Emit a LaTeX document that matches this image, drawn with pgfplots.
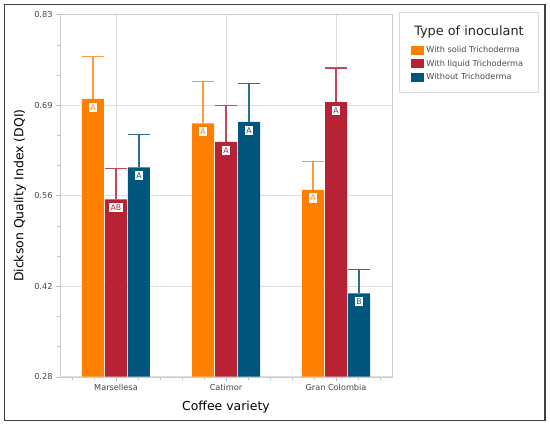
\documentclass[border=0pt]{standalone}
\usepackage{fontspec}
\setmainfont{DejaVu Sans}
\usepackage{pgfplots}
\usepackage{pgfplotstable}
\pgfplotsset{compat=1.18}
\definecolor{cOr}{HTML}{FF8000}
\definecolor{cRd}{HTML}{B82235}
\definecolor{cBl}{HTML}{00567D}
\definecolor{eOr}{HTML}{FF9A3C}
\definecolor{eRd}{HTML}{C84555}
\definecolor{eBl}{HTML}{2F6E8E}
\pgfplotstableread{
x y e lab
0 0.702 0.064 A
1 0.665 0.064 A
2 0.564 0.043 A
}\solid
\pgfplotstableread{
x y e lab
0 0.5495 0.047 AB
1 0.6366 0.056 A
2 0.697 0.052 A
}\liquid
\pgfplotstableread{
x y e lab
0 0.598 0.050 A
1 0.667 0.059 A
2 0.4067 0.036 B
}\without
\begin{document}
\begin{tikzpicture}
\useasboundingbox (0,0) rectangle (550bp,425bp);
\fill[white] (0,0) rectangle (550bp,425bp);
\draw[line width=1.3bp, black!75] (4.7bp,4.7bp) rectangle (545bp,420.3bp);
\begin{axis}[
  at={(60bp,48.3bp)}, anchor=south west,
  scale only axis, width=332bp, height=362bp,
  ymin=0.28, ymax=0.83,
  ytick={0.28,0.4175,0.555,0.6925,0.83},
  yticklabels={0.28,0.42,0.56,0.69,0.83},
  minor y tick num=2,
  xmin=-0.509, xmax=2.509,
  xtick={0,1,2},
  xticklabels={Marsellesa,Catimor,Gran Colombia},
  minor xtick={-0.4,-0.2,0.2,0.4,0.6,0.8,1.2,1.4,1.6,1.8,2.2,2.4},
  xtick pos=lower, ytick pos=left,
  tick align=outside,
  major tick length=4bp, minor tick length=3bp,
  every tick/.style={black!25},
  axis line style={black!20},
  grid=major,
  major grid style={black!13, line width=0.9bp},
  ticklabel style={font=\fontsize{8.2}{9}\selectfont, text=black!72},
  xlabel={Coffee variety},
  ylabel={Dickson Quality Index (DQI)},
  every axis x label/.style={at={(axis description cs:0.5,0)}, anchor=center, yshift=-30bp, font=\fontsize{12.5}{14}\selectfont},
  every axis y label/.style={at={(axis description cs:-0.1205,0.5)}, rotate=90, anchor=center, font=\fontsize{12.5}{14}\selectfont},
  ybar, bar width=22bp,
  point meta=explicit symbolic,
  nodes near coords,
  every node near coord/.append style={anchor=north, yshift=-3.5bp, fill=white, inner sep=1.8bp, font=\fontsize{7.8}{8.5}\selectfont},
  error bars/y dir=plus, error bars/y explicit,
  error bars/error mark=-,
  error bars/error mark options={rotate=90, mark size=11bp, line width=1.2bp},
  legend style={at={(1.047,0.922)}, anchor=north west, draw=none, fill=none,
    font=\fontsize{8.2}{9}\selectfont, text=black!70, row sep=3.6bp, column sep=1.5bp,
    nodes={inner sep=1.2bp}},
  legend cell align=left,
  legend image code/.code={\fill[#1] (0bp,-4.5bp) rectangle (13bp,4.5bp);},
]
\addplot[fill=cOr, draw=none, bar shift=-23bp,
  error bars/error bar style={eOr, line width=1.2bp},
  every node near coord/.append style={text=cOr}]
  table[x=x, y=y, y error=e, meta=lab] {\solid};
\addlegendentry{With solid Trichoderma}
\addplot[fill=cRd, draw=none, bar shift=0bp,
  error bars/error bar style={eRd, line width=1.2bp},
  every node near coord/.append style={text=cRd}]
  table[x=x, y=y, y error=e, meta=lab] {\liquid};
\addlegendentry{With liquid Trichoderma}
\addplot[fill=cBl, draw=none, bar shift=23bp,
  error bars/error bar style={eBl, line width=1.2bp},
  every node near coord/.append style={text=cBl}]
  table[x=x, y=y, y error=e, meta=lab] {\without};
\addlegendentry{Without Trichoderma}
\end{axis}
\draw[black!15, line width=0.9bp] (399bp,332.7bp) rectangle (538.3bp,412.7bp);
\node[font=\fontsize{12.9}{15}\selectfont, text=black!85] at (469bp,393bp) {Type of inoculant};
\end{tikzpicture}
\end{document}
